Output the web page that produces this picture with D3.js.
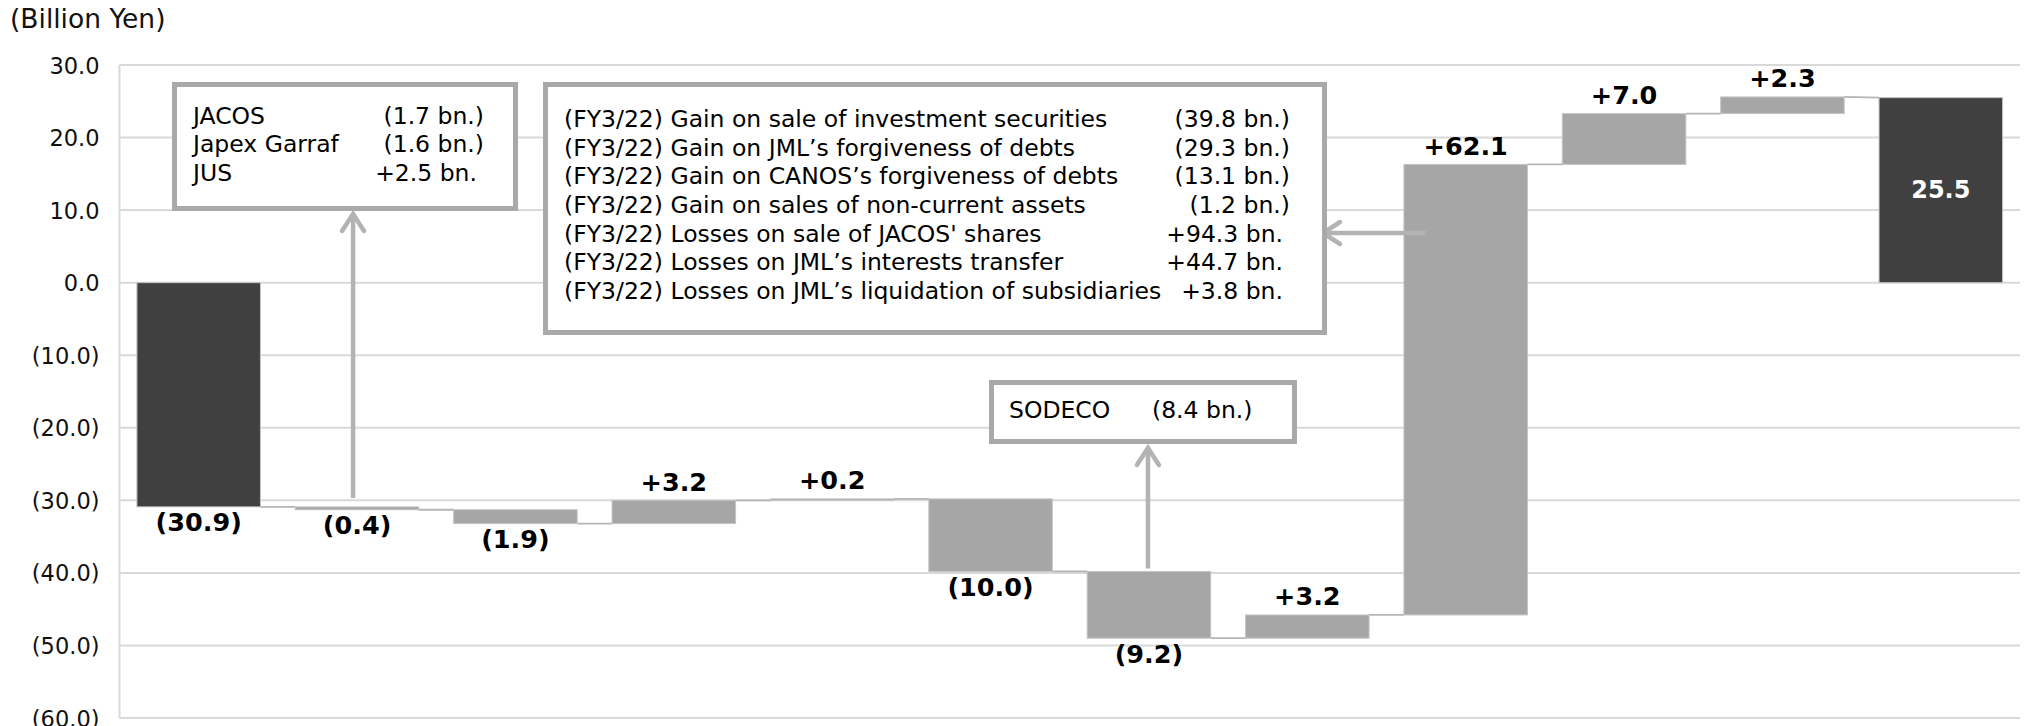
<!DOCTYPE html>
<html>
<head>
<meta charset="utf-8">
<script src="https://cdn.jsdelivr.net/npm/d3@7"></script>
<style>
html,body{margin:0;padding:0;background:#fff;}
svg{display:block;font-family:"DejaVu Sans",Verdana,sans-serif;}
</style>
</head>
<body>
<svg id="chart" width="2035" height="726"></svg>
<script>
// ---------------- data ----------------
const categories = ["FY3/22", "c2", "c3", "c4", "c5", "c6", "c7", "c8", "c9", "c10", "c11", "FY3/23"];
const changes = [-30.9, -0.4, -1.9, 3.2, 0.2, -10.0, -9.2, 3.2, 62.1, 7.0, 2.3, 25.5];
const totalFlags = [true, false, false, false, false, false, false, false, false, false, false, true];
const yTickValues = [30, 20, 10, 0, -10, -20, -30, -40, -50, -60];
const yDomain = [-60, 30];
const unitLabel = "(Billion Yen)";

const noteAffiliates = [
  ["JACOS", "(1.7 bn.)"],
  ["Japex Garraf", "(1.6 bn.)"],
  ["JUS", "+2.5 bn."]
];
const noteSpecialItems = [
  ["(FY3/22) Gain on sale of investment securities", "(39.8 bn.)"],
  ["(FY3/22) Gain on JML\u2019s forgiveness of debts", "(29.3 bn.)"],
  ["(FY3/22) Gain on CANOS\u2019s forgiveness of debts", "(13.1 bn.)"],
  ["(FY3/22) Gain on sales of non-current assets", "(1.2 bn.)"],
  ["(FY3/22) Losses on sale of JACOS' shares", "+94.3 bn."],
  ["(FY3/22) Losses on JML\u2019s interests transfer", "+44.7 bn."],
  ["(FY3/22) Losses on JML\u2019s liquidation of subsidiaries", "+3.8 bn."]
];
const noteSodeco = [["SODECO", "(8.4 bn.)"]];

// ---------------- layout ----------------
const W = 2035, H = 726;
const plotLeft = 119.5, plotRight = 2020, plotTop = 65, plotBottom = 718;
const svg = d3.select("#chart");

const x = d3.scaleBand().domain(categories).range([plotLeft, plotRight])
  .paddingInner(0.22).paddingOuter(0.11);
const y = d3.scaleLinear().domain(yDomain).range([plotBottom, plotTop]);

const f1 = d3.format(".1f");
const tickFmt = v => v < 0 ? "(" + f1(-v) + ")" : f1(v);

// build waterfall
let cum = 0;
const bars = categories.map((c, i) => {
  const v = changes[i];
  let start, end;
  if (totalFlags[i]) { start = 0; end = v; } else { start = cum; end = cum + v; }
  cum = end;
  return {c, v, start, end, total: totalFlags[i], i};
});

const GRID = "#d9d9d9", BAR_GRAY = "#a6a6a6", BAR_DARK = "#404040";
const BOX = "#a9a9a9", ARROW = "#b3b3b3";

// gridlines
svg.append("g").selectAll("line").data(yTickValues).join("line")
  .attr("x1", plotLeft).attr("x2", plotRight)
  .attr("y1", d => y(d)).attr("y2", d => y(d))
  .attr("stroke", GRID).attr("stroke-width", 2);

// y axis line
svg.append("line").attr("x1", plotLeft).attr("x2", plotLeft)
  .attr("y1", y(30)).attr("y2", y(-60))
  .attr("stroke", GRID).attr("stroke-width", 2);

// y axis ticks via d3 axis
const yAxis = d3.axisLeft(y).tickValues(yTickValues).tickFormat(tickFmt).tickSize(0).tickPadding(20);
const gy = svg.append("g").attr("transform", `translate(${plotLeft},0)`).call(yAxis);
gy.select(".domain").remove();
gy.selectAll("text").attr("font-size", 22.5).attr("fill", "#111")
  .attr("font-family", "DejaVu Sans, Verdana, sans-serif").attr("dy", "0.36em");

// unit label
svg.append("text").attr("x", 10).attr("y", 28).attr("font-size", 26.5).attr("fill", "#111").text(unitLabel);

// connectors
const conn = d3.range(bars.length - 1).map(i => {
  const a = bars[i], b = bars[i + 1];
  return {
    x1: x(a.c) + x.bandwidth(), y1: y(a.end),
    x2: x(b.c), y2: b.total ? y(Math.max(b.start, b.end)) : y(b.start)
  };
});
svg.append("g").selectAll("line").data(conn).join("line")
  .attr("x1", d => d.x1).attr("x2", d => d.x2)
  .attr("y1", d => d.y1).attr("y2", d => d.y2)
  .attr("stroke", "#b5b5b5").attr("stroke-width", 1.8);

// bars
svg.append("g").selectAll("rect").data(bars).join("rect")
  .attr("x", d => x(d.c))
  .attr("width", x.bandwidth())
  .attr("y", d => y(Math.max(d.start, d.end)))
  .attr("height", d => Math.max(1, Math.abs(y(d.start) - y(d.end))))
  .attr("fill", d => d.total ? BAR_DARK : BAR_GRAY)
  .attr("stroke", "#c4c4c4").attr("stroke-width", 1);

// annotation helpers
function box(x0, y0, x1, y1) {
  svg.append("rect").attr("x", x0 + 2.5).attr("y", y0 + 2.5)
    .attr("width", x1 - x0 - 5).attr("height", y1 - y0 - 5)
    .attr("fill", "#fff").attr("stroke", BOX).attr("stroke-width", 5);
}
function arrowUp(xc, yFrom, yTip) {
  svg.append("line").attr("x1", xc).attr("x2", xc).attr("y1", yFrom).attr("y2", yTip + 2)
    .attr("stroke", ARROW).attr("stroke-width", 4.5);
  svg.append("polyline").attr("points", `${xc - 11},${yTip + 17} ${xc},${yTip} ${xc + 11},${yTip + 17}`)
    .attr("fill", "none").attr("stroke", ARROW).attr("stroke-width", 4.5)
    .attr("stroke-linecap", "round").attr("stroke-linejoin", "miter");
}
function arrowLeft(yc, xFrom, xTip) {
  svg.append("line").attr("x1", xFrom).attr("x2", xTip + 2).attr("y1", yc).attr("y2", yc)
    .attr("stroke", ARROW).attr("stroke-width", 4.5);
  svg.append("polyline").attr("points", `${xTip + 17},${yc - 11} ${xTip},${yc} ${xTip + 17},${yc + 11}`)
    .attr("fill", "none").attr("stroke", ARROW).attr("stroke-width", 4.5)
    .attr("stroke-linecap", "round");
}
function noteText(rows, xLabel, xAmountEnd, y0, dy, size) {
  const g = svg.append("g").attr("font-size", size).attr("fill", "#000");
  rows.forEach((r, i) => {
    g.append("text").attr("x", xLabel).attr("y", y0 + i * dy).text(r[0]);
    const closes = r[1].endsWith(")");
    g.append("text").attr("x", xAmountEnd - (closes ? 0 : 7)).attr("y", y0 + i * dy)
      .attr("text-anchor", "end").text(r[1]);
  });
}

// arrows
const bandMid = c => x(c) + x.bandwidth() / 2;
arrowUp(bandMid(categories[1]) - 4, 498, 214);
arrowUp(bandMid(categories[6]) - 1, y(bars[6].start) - 3, 448);
arrowLeft(233, bandMid(categories[8]) - 40, 1323);

// boxes
box(172, 82, 518, 211);
noteText(noteAffiliates, 193, 484, 123.5, 28.7, 23.5);

box(543, 82, 1327, 335);
noteText(noteSpecialItems, 564, 1290, 127.3, 28.55, 23.5);

box(989, 380, 1297, 444);
svg.append("text").attr("x", 1009).attr("y", 418).attr("font-size", 23.5).text(noteSodeco[0][0]);
svg.append("text").attr("x", 1152).attr("y", 418).attr("font-size", 23.5).text(noteSodeco[0][1]);

// value labels
const labelText = d => d.v < 0 ? "(" + f1(-d.v) + ")" : (d.total ? f1(d.v) : "+" + f1(d.v));
svg.append("g").selectAll("text").data(bars).join("text")
  .attr("x", d => bandMid(d.c))
  .attr("y", d => {
    if (d.total && d.v > 0) return (y(d.start) + y(d.end)) / 2 + 8;
    if (d.v < 0) return y(Math.min(d.start, d.end)) + 24.5;
    return y(Math.max(d.start, d.end)) - 9.5;
  })
  .attr("text-anchor", "middle")
  .attr("font-weight", "bold")
  .attr("font-size", d => d.total && d.v > 0 ? 24 : 25.5)
  .attr("fill", d => d.total && d.v > 0 ? "#fff" : "#000")
  .text(labelText);
</script>
</body>
</html>
